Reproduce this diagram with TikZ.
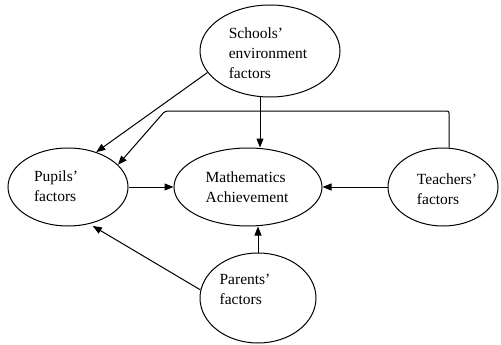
\documentclass[tikz,border=0pt]{standalone}
\usepackage{fontspec}
\setmainfont{Liberation Serif}
\usetikzlibrary{shapes.geometric,arrows.meta}
\begin{document}
\begin{tikzpicture}[x=1pt,y=-1pt,
 oval/.style={draw,ellipse,line width=1pt,inner sep=0pt},
 lbl/.style={align=left,font=\fontsize{15.5}{20}\selectfont,inner sep=0pt},
 arr/.style={-{Triangle[length=9pt,width=7pt]},line width=1pt}]
\useasboundingbox (0,0) rectangle (501,345);
\node[oval,minimum width=140pt,minimum height=92pt] (s) at (270,51) {};
\node[oval,minimum width=120pt,minimum height=78pt] (p) at (68,187) {};
\node[oval,minimum width=148pt,minimum height=78pt] (m) at (248,187) {};
\node[oval,minimum width=110pt,minimum height=78pt] (t) at (443,187) {};
\node[oval,minimum width=116pt,minimum height=90pt] (a) at (258,298) {};
\node[lbl] (sl) at (268,53) {Schools'\\environment\\factors};
\node[lbl] (pl) at (56,186) {Pupils'\\factors};
\node[lbl] (ml) at (247,187) {Mathematics\\Achievement};
\node[lbl] (tl) at (447,189) {Teachers'\\factors};
\node[lbl] (al) at (245,289) {Parents'\\factors};
\coordinate (c1) at (449,111);
\coordinate (c2) at (165,111);
\coordinate (vx) at (260,0);
\draw[arr] (s.199) -- (p.51);
\draw[arr,rounded corners=2pt] (c1 |- t.north) -- (c1) -- (c2) -- (p.24);
\draw[arr] (vx |- s.south) -- (vx |- m.north);
\draw[arr] (p.east) -- (m.west);
\draw[arr] (t.west) -- (m.east);
\draw[arr] (a.north) -- (a.north |- m.south);
\draw[arr,shorten >=4pt] (a.172) -- (p.300);
\end{tikzpicture}
\end{document}
